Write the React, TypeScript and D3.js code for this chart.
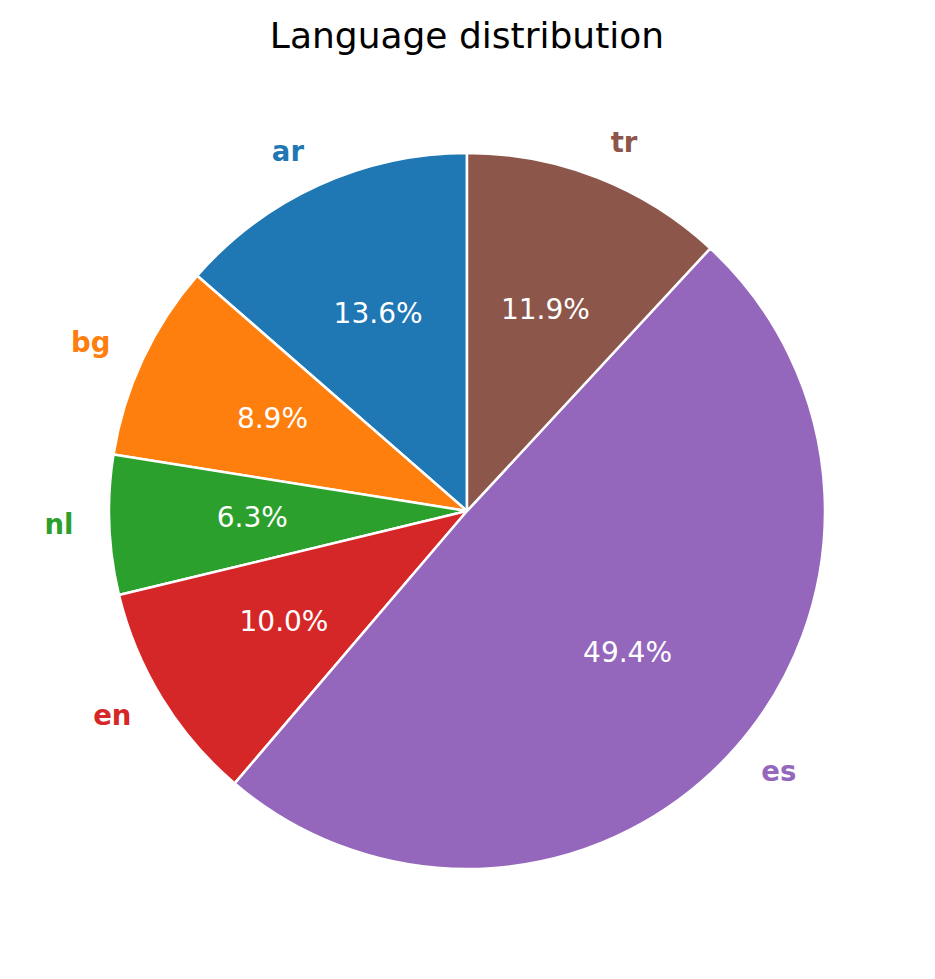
import React from "react";
import * as d3 from "d3";

const categories = ["ar", "bg", "nl", "en", "es", "tr"];
const values = [13.6, 8.9, 6.3, 10.0, 49.4, 11.9];
const colors = ["#1f77b4", "#ff7f0e", "#2ca02c", "#d62728", "#9467bd", "#8c564b"];
const title = "Language distribution";

const W = 935;
const H = 979;
const CX = 467;
const CY = 511;
const R = 358;

export default function App() {
  const pie = d3
    .pie<number>()
    .sort(null)
    .value((d) => d)
    .startAngle(0)
    .endAngle(-2 * Math.PI);
  const arcs = pie(values);
  const arcGen = d3.arc<d3.PieArcDatum<number>>().innerRadius(0).outerRadius(R);
  const total = d3.sum(values);
  const font = "'DejaVu Sans', sans-serif";

  return (
    <svg width={W} height={H} style={{ display: "block", position: "absolute", left: 0, top: 0, background: "#fff" }}>
      <text x={CX} y={48} textAnchor="middle" fontFamily={font} fontSize={36} fill="#000">
        {title}
      </text>
      <g transform={`translate(${CX},${CY})`}>
        {arcs.map((a, i) => (
          <path key={categories[i]} d={arcGen(a) || ""} fill={colors[i]} stroke="#fff" strokeWidth={2.5} strokeLinejoin="round" />
        ))}
        {arcs.map((a, i) => {
          const mid = (a.startAngle + a.endAngle) / 2;
          const lx = Math.sin(mid) * R * 1.1;
          const ly = -Math.cos(mid) * R * 1.1;
          const px = Math.sin(mid) * R * 0.6;
          const py = -Math.cos(mid) * R * 0.6;
          const pct = ((values[i] / total) * 100).toFixed(1) + "%";
          return (
            <g key={"t" + categories[i]}>
              <text
                x={lx}
                y={ly + 8}
                textAnchor={lx > 0 ? "start" : "end"}
                fontFamily={font}
                fontWeight="bold"
                fontSize={27.5}
                fill={colors[i]}
              >
                {categories[i]}
              </text>
              <text x={px} y={py + 8} textAnchor="middle" fontFamily={font} fontSize={28} fill="#fff">
                {pct}
              </text>
            </g>
          );
        })}
      </g>
    </svg>
  );
}
